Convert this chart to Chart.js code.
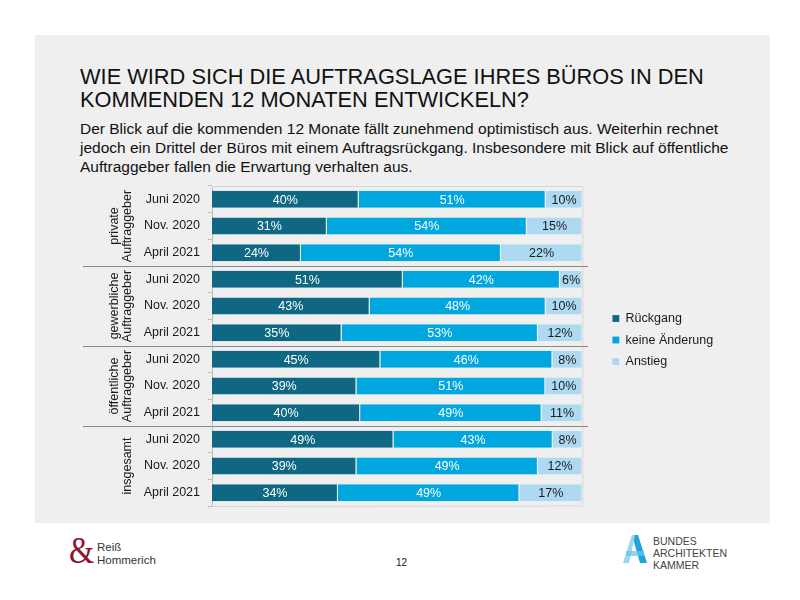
<!DOCTYPE html>
<html lang="de">
<head>
<meta charset="utf-8">
<script src="https://cdn.jsdelivr.net/npm/chart.js@4"></script>
<style>
  body { margin: 0; width: 800px; height: 600px; background: #fff; font-family: "Liberation Sans", Arial, sans-serif; position: relative; overflow: hidden; }
  #panel { position: absolute; left: 35px; top: 35px; width: 735px; height: 488px; background: #efefef; }
  #title { position: absolute; left: 80px; top: 65px; font-size: 21.8px; line-height: 23px; color: #111; white-space: nowrap; }
  #sub { position: absolute; left: 80px; top: 119px; font-size: 15.5px; line-height: 19px; color: #111; white-space: nowrap; }
  #wrap { position: absolute; left: 35px; top: 180px; width: 735px; height: 335px; }
  .foot { position: absolute; color: #333; }
</style>
</head>
<body>
<div id="panel"></div>
<div id="title">WIE WIRD SICH DIE AUFTRAGSLAGE IHRES BÜROS IN DEN<br>KOMMENDEN 12 MONATEN ENTWICKELN?</div>
<div id="sub">Der Blick auf die kommenden 12 Monate fällt zunehmend optimistisch aus. Weiterhin rechnet<br>jedoch ein Drittel der Büros mit einem Auftragsrückgang. Insbesondere mit Blick auf öffentliche<br>Auftraggeber fallen die Erwartung verhalten aus.</div>
<div id="wrap"><canvas id="chart"></canvas></div>

<div class="foot" style="left:69px;top:531px;font-family:'Liberation Serif',serif;font-size:38px;line-height:38px;color:#8c1630;transform:scaleX(0.85);transform-origin:left top;">&amp;</div>
<div class="foot" style="left:97px;top:541px;font-size:11.5px;line-height:13px;color:#333;">Reiß<br>Hommerich</div>
<div class="foot" style="left:396px;top:557px;font-size:10px;color:#111;">12</div>
<svg class="foot" style="left:623px;top:535px;" width="24" height="28" viewBox="0 0 24 28">
  <polygon points="9,0 15,0 24,28 17,28" fill="#1ea5df"/>
  <polygon points="9,0 12,0 6,28 0,28" fill="#9ad5f1"/>
  <rect x="3" y="16" width="18" height="5" fill="#6cc3ea" opacity="0.75"/>
</svg>
<div class="foot" style="left:653px;top:535px;font-size:10.5px;line-height:12px;color:#444;">BUNDES<br>ARCHITEKTEN<br>KAMMER</div>

<script>
const groups = [["private", "Auftraggeber"], ["gewerbliche", "Auftraggeber"], ["öffentliche", "Auftraggeber"], ["insgesamt"]];
const periods = ["Juni 2020", "Nov. 2020", "April 2021"];

const rueckgang = [40, 31, 24, 51, 43, 35, 45, 39, 40, 49, 39, 34];
const keineAenderung = [51, 54, 54, 42, 48, 53, 46, 51, 49, 43, 49, 49];
const anstieg = [10, 15, 22, 6, 10, 12, 8, 10, 11, 8, 12, 17];

const labels = [];
groups.forEach(() => periods.forEach(p => labels.push(p)));

// 100% stacked: each row scaled to its own total, like the original
const totals = rueckgang.map((v, i) => v + keineAenderung[i] + anstieg[i]);
const share = arr => arr.map((v, i) => v / totals[i] * 100);

const valueLabels = {
    id: 'valueLabels',
    afterDatasetsDraw(chart) {
        const ctx = chart.ctx;
        ctx.save();
        ctx.font = '12.5px "Liberation Sans", Arial, sans-serif';
        ctx.textAlign = 'center';
        ctx.textBaseline = 'middle';
        chart.data.datasets.forEach((ds, d) => {
            chart.getDatasetMeta(d).data.forEach((bar, i) => {
                ctx.fillStyle = d < 2 ? '#ffffff' : '#1a1a1a';
                ctx.fillText(ds.raw[i] + '%', (bar.x + bar.base) / 2, bar.y + 1);
            });
        });
        ctx.restore();
    }
};

const groupDecor = {
    id: 'groupDecor',
    afterDraw(chart) {
        const ctx = chart.ctx;
        const area = chart.chartArea;
        const y = chart.scales.y;
        ctx.save();
        // frame on top and right of the plot
        ctx.strokeStyle = '#d6d6d6';
        ctx.lineWidth = 1;
        ctx.beginPath();
        ctx.moveTo(area.left, area.top + 0.5);
        ctx.lineTo(area.right + 0.5, area.top + 0.5);
        ctx.lineTo(area.right + 0.5, area.bottom);
        ctx.lineTo(area.left, area.bottom + 0.5);
        ctx.stroke();
        // separators between groups
        ctx.strokeStyle = '#8a8a8a';
        for (let g = 1; g < groups.length; g++) {
            const yy = Math.round((y.getPixelForTick(g * 3 - 1) + y.getPixelForTick(g * 3)) / 2) + 0.5;
            ctx.beginPath();
            ctx.moveTo(48, yy);
            ctx.lineTo(area.right + 6, yy);
            ctx.stroke();
        }
        // rotated group names
        ctx.fillStyle = '#1a1a1a';
        ctx.font = '12.5px "Liberation Sans", Arial, sans-serif';
        ctx.textAlign = 'center';
        ctx.textBaseline = 'middle';
        groups.forEach((lines, g) => {
            const cy = y.getPixelForTick(g * 3 + 1);
            lines.forEach((t, k) => {
                const cx = 93 - (lines.length - 1 - k) * 13;
                ctx.save();
                ctx.translate(cx, cy);
                ctx.rotate(-Math.PI / 2);
                ctx.fillText(t, 0, 0);
                ctx.restore();
            });
        });
        ctx.restore();
    }
};

const ctx = document.getElementById('chart');

const chart = new Chart(ctx, {
    type: 'bar',
    data: {
        labels: labels,
        datasets: [
            { label: 'Rückgang', data: share(rueckgang), raw: rueckgang, backgroundColor: '#0f6883' },
            { label: 'keine Änderung', data: share(keineAenderung), raw: keineAenderung, backgroundColor: '#00a6de' },
            { label: 'Anstieg', data: share(anstieg), raw: anstieg, backgroundColor: '#aed9f2' }
        ]
    },
    options: {
        indexAxis: 'y',
        responsive: true,
        maintainAspectRatio: false,
        animation: false,
        datasets: {
            bar: {
                categoryPercentage: 0.64,
                barPercentage: 1,
                borderWidth: { top: 0, bottom: 0, left: 0, right: 1 },
                borderColor: 'rgba(239,239,239,0.8)',
                borderSkipped: false
            }
        },
        layout: { padding: { top: 6, bottom: 9, left: 0, right: 53 } },
        scales: {
            x: { stacked: true, min: 0, max: 100, display: false },
            y: {
                stacked: true,
                afterFit: s => { s.width = 177; s.paddingTop = 0; s.paddingBottom = 0; },
                grid: { display: true, offset: true, drawOnChartArea: false, tickLength: 4, color: '#bdbdbd' },
                border: { display: true, color: '#bdbdbd' },
                ticks: { color: '#1a1a1a', font: { family: '"Liberation Sans", Arial, sans-serif', size: 12.5 }, padding: 8 }
            },
            // empty strip between plot and legend
            gap: {
                type: 'linear', axis: 'y', position: 'right',
                grid: { display: false }, border: { display: false }, ticks: { display: false },
                afterFit: s => { s.width = 21; s.paddingTop = 0; s.paddingBottom = 0; }
            }
        },
        plugins: {
            legend: {
                position: 'right',
                title: { display: true, text: ' ', font: { size: 1 }, padding: { top: -13, bottom: 0 } },
                labels: {
                    boxWidth: 7, boxHeight: 7, padding: 9, color: '#1a1a1a',
                    font: { family: '"Liberation Sans", Arial, sans-serif', size: 12.5 }
                }
            },
            tooltip: { enabled: false }
        }
    },
    plugins: [valueLabels, groupDecor]
});
</script>
</body>
</html>
